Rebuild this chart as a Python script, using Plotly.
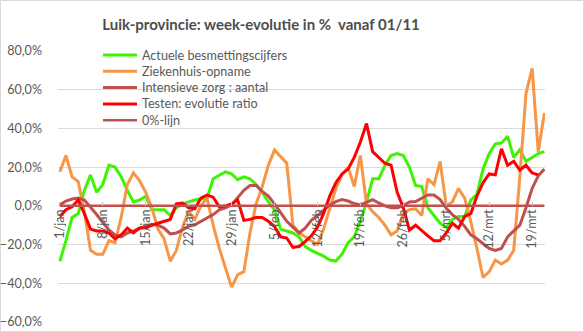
import pandas as pd
import plotly.graph_objects as go

# Daily categories 1 Jan - 21 Mar
MONTHS = {1: "jan", 2: "feb", 3: "mrt"}
dates = pd.date_range("2021-01-01", "2021-03-21", freq="D")
days = [f"{d.day}/{MONTHS[d.month]}" for d in dates]
tick_labels = days[::7]

# Week-on-week evolution in %
actuele = [-28.6, -18, -6, -4, 8, 16, 7, 11, 21, 20,
           15, 8, 2, 3, 5, -2, -2, -2, -5, -1,
           1, 2, 3, 3.5, 4, 14, 16, 17.6, 16.5, 13.5,
           15, 14, 11, 7, 2, -2, -12, -13, -14, -16,
           -21, -23, -24.5, -26, -28, -28.5, -25, -19, -16, -8,
           2, 14, 14, 21, 26, 27, 26, 20, 10.5, 10,
           -1, -5, -9, -11, -7, -5.5, -5.5, 3, 6, 19,
           27, 32, 32.5, 36, 25, 29, 23, 25, 27, 28]
ziekenhuis = [17.6, 26, 15, 12.5, -3, -23, -25, -25, -18, -19,
              -6, 11, 17, 13, 7, -1, -12, -17, -28.6, -23,
              -11, -3, -7, 0, 4, -10, -22, -32, -42, -35.5,
              -34, -14, 1, 10, 21, 28.8, 25.5, 22, -10, -14,
              -16, -18, -20, -12, -2, 9, 16, 20, 10, 26,
              1, -3, -6, -10, -15, -13, -4, -2, -1.5, -5,
              14, 11, 23, 0, 2, 9, 4, -8, -22, -37,
              -34, -28, -30, -28, -23, 15, 58, 71, 28, 48]
intensieve = [0.5, 2.5, 3.5, 4, 3, -0.5, -4.5, -8.5, -12.5, -15,
              -16, -14, -13, -11.5, -10.5, -9.5, -10, -11.5, -14.5, -14,
              -12.5, -10.5, -9.8, -8, -6.5, -4.5, -2, -1, 0.5, 4.5,
              8, 10.5, 10.5, 7.5, 5, 1, -3.5, -8, -11, -14,
              -11.5, -7.5, -5, -2, 0.5, 2.2, 3.2, 2.5, 1.2, 0.5,
              2, 3.2, 1.5, 0, -1, -1, 0, 2, 2.2, 4,
              5.6, 5.6, 3.2, -1.2, -4.5, -7, -10.6, -15, -17, -19.5,
              -22, -23, -22, -16, -13, -10, -1, 9, 15.5, 19]
testen = [-5.5, -2, -0.5, 3, -4, -12, -13, -13, -14, -17,
          -15, -11.5, -14, -11.5, -11.5, -10, -9, -8, -7, 1,
          1.4, -1, -1.5, 4, 5.6, 4.5, -0.5, 0, 1, 3,
          -7.5, -7, -6, -6, -8, -10.6, -16, -16.6, -21.5, -21,
          -18.5, -15.5, -11, -4, 5, 12, 16.5, 19, 25, 33,
          42.5, 28, 25, 22, 21, 7, -1, -12.5, -10, -13,
          -15.5, -18, -18, -14, -9, -11.5, -5.5, -4, 5, 12,
          16.5, 16, 29.5, 21, 23, 18.5, 21, 17, 16, None]
nul_lijn = [0] * len(days)

series = [
    ("Actuele besmettingscijfers", actuele, "#3DF500", 3),
    ("Ziekenhuis-opname", ziekenhuis, "#F79646", 3),
    ("Intensieve zorg : aantal", intensieve, "#C0504D", 3),
    ("Testen: evolutie ratio", testen, "#FF0000", 3),
    ("0%-lijn", nul_lijn, "#C0504D", 2.5),
]

FONT = "Lato"
GREY = "#595959"

W, H = 584, 332
ML, MR, MT, MB = 58, 39, 51, 10
pw, ph = W - ML - MR, H - MT - MB


def px_x(x):
    return (x - ML) / pw


def px_y(y):
    return 1 - (y - MT) / ph


fig = go.Figure()
for name, vals, color, width in series:
    fig.add_trace(go.Scatter(
        x=days,
        y=[None if v is None else v / 100 for v in vals],
        name=name,
        mode="lines",
        line=dict(color=color, width=width),
        connectgaps=False,
        showlegend=False,
    ))

# Compact legend: line sample + label per series
LEG_X0, LEG_X1, LEG_TXT, LEG_Y0, LEG_DY = 103, 137, 140, 55, 16.3
for k, (name, vals, color, width) in enumerate(series):
    yy = px_y(LEG_Y0 + k * LEG_DY)
    fig.add_shape(
        type="line", xref="paper", yref="paper",
        x0=px_x(LEG_X0), x1=px_x(LEG_X1), y0=yy, y1=yy,
        line=dict(color=color, width=width),
    )
    fig.add_annotation(
        xref="paper", yref="paper", x=px_x(LEG_TXT), y=yy,
        xanchor="left", yanchor="middle", showarrow=False,
        text=name, font=dict(family=FONT, size=12.6, color=GREY),
    )

fig.update_layout(
    width=W, height=H,
    margin=dict(l=ML, r=MR, t=MT, b=MB, autoexpand=False),
    paper_bgcolor="white",
    plot_bgcolor="white",
    separators=",.",
    font=dict(family=FONT, color=GREY, size=12.6),
    title=dict(
        text="<b>Luik-provincie: week-evolutie in %  vanaf 01/11</b>",
        x=261 / W, xref="container", xanchor="center",
        y=1 - 25 / H, yref="container", yanchor="middle",
        font=dict(family=FONT, size=15, color="#4D4D4D"),
    ),
    showlegend=False,
    xaxis=dict(
        type="category",
        range=[-0.3, len(days) - 0.9],
        tickmode="array",
        tickvals=tick_labels,
        ticktext=tick_labels,
        tickangle=-90,
        anchor="free",
        position=0.6 / 1.4,
        showgrid=False,
        showline=False,
        zeroline=False,
        ticks="inside",
        ticklen=4,
        tickcolor="#BFBFBF",
        automargin=False,
        tickfont=dict(family=FONT, size=12.6, color=GREY),
    ),
    yaxis=dict(
        range=[-0.6, 0.8],
        dtick=0.2,
        tickformat=".1%",
        showgrid=True,
        gridcolor="#D9D9D9",
        gridwidth=1,
        zeroline=False,
        showline=False,
        automargin=False,
        ticklabelstandoff=15,
        tickfont=dict(family=FONT, size=12.6, color=GREY),
    ),
)

# Chart-area border
fig.add_shape(
    type="rect", xref="paper", yref="paper",
    x0=px_x(0.5), x1=px_x(W - 0.5),
    y0=px_y(H - 0.5), y1=px_y(0.5),
    line=dict(color="#D9D9D9", width=1),
    fillcolor="rgba(0,0,0,0)", layer="below",
)

fig.write_html("out.html")
